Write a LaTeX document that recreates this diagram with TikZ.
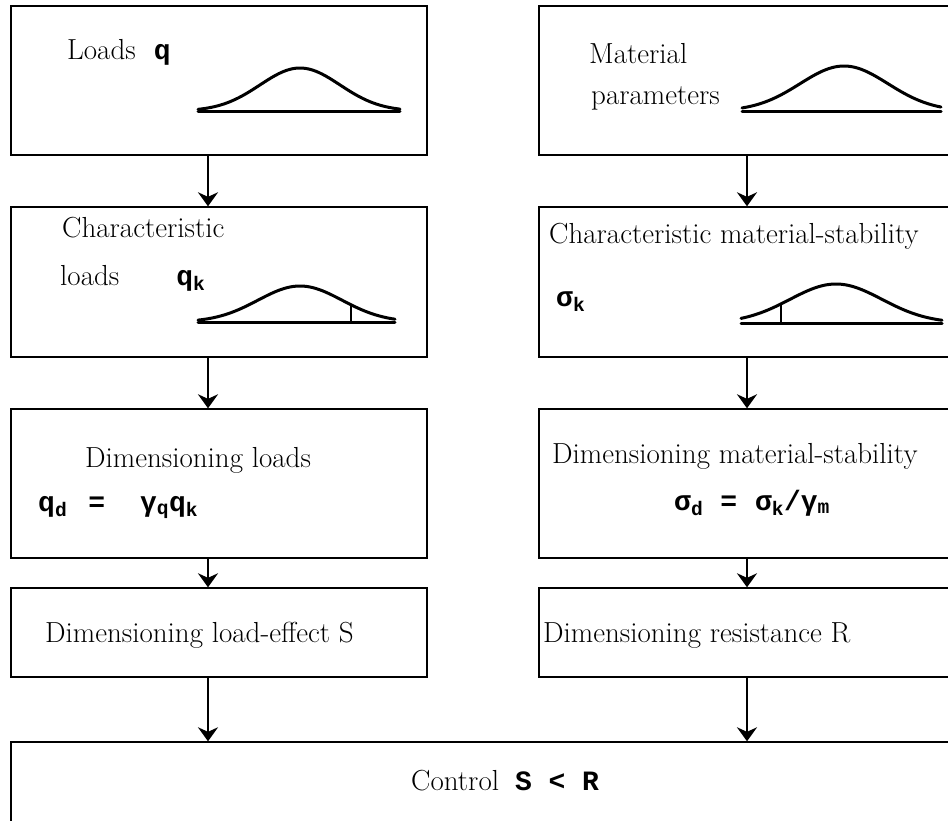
\documentclass[tikz,border=0pt]{standalone}
\usepackage{fontspec}
\setmonofont{Liberation Mono}
\usetikzlibrary{arrows.meta}
\newcommand{\tf}{\fontsize{28}{32}\selectfont\ttfamily\bfseries}

\begin{document}
\begin{tikzpicture}[x=1pt, y=-1pt,
  blk/.style={draw, line width=1.4pt, inner sep=0pt, minimum width=416pt},
  lbl/.style={anchor=base west, inner sep=0pt, font=\fontsize{29}{33}\selectfont},
  frm/.style={anchor=base west, inner sep=0pt, font=\tf},
  flow/.style={line width=2.2pt, -{Stealth[length=14pt, width=20pt]}},
  bell/.style={line width=3pt, line cap=round, line join=round}]

\useasboundingbox (0,0) rectangle (948,820);
\clip (0,0) rectangle (948,820);

% boxes
\node[blk, minimum height=149pt] (loads) at (219,80.5) {};
\node[blk, minimum height=150pt] (charload) at (219,282) {};
\node[blk, minimum height=149pt] (dimload) at (219,483.5) {};
\node[blk, minimum height=89pt] (effect) at (219,632.5) {};
\node[blk, minimum height=149pt] (matpar) at (747,80.5) {};
\node[blk, minimum height=150pt] (charmat) at (747,282) {};
\node[blk, minimum height=149pt] (dimmat) at (747,483.5) {};
\node[blk, minimum height=89pt] (resist) at (747,632.5) {};
\node[blk, minimum width=944pt, minimum height=100pt] (control) at (483,792) {};

% texts
\node[lbl] (tloads) at (67,59) {Loads\hspace{18pt}{\tf q}};
\node[lbl] (tmat1) at (589,63) {Material};
\node[lbl] (tmat2) at (591,104) {parameters};
\node[lbl] (tchar1) at (62,237) {Characteristic};
\node[lbl] (tchar2) at (60,285) {loads\hspace{57pt}{\tf q\textsubscript{k}}};
\node[lbl] (tcharm) at (549,243) {Characteristic material-stability};
\node[frm] (fsigk) at (556,306) {σ\textsubscript{k}};
\node[lbl] (tdim) at (85,467) {Dimensioning loads};
\node[frm] (fdim) at (38,511) {q\textsubscript{d}\hspace{21pt}=\hspace{35pt}γ\textsubscript{q}q\textsubscript{k}};
\node[lbl] (tdimm) at (552,463) {Dimensioning material-stability};
\node[frm] (fdimm) at (674,510) {σ\textsubscript{d}\hspace{17pt}=\hspace{18pt}σ\textsubscript{k}/γ\textsubscript{m}};
\node[lbl] (teff) at (45,642) {Dimensioning load-effect S};
\node[lbl] (tres) at (543,642) {Dimensioning resistance R};
\node[lbl] (tctrl) at (411,790) {Control\hspace{16pt}{\tf S < R}};

% distributions
\draw[bell] (198,111) -- (400,111);
\draw[bell] plot[domain=-102:100, samples=61] ({300+\x},{111-43*exp(-0.5*(\x/40)*(\x/40))});
\draw[bell] (742,111) -- (941,111);
\draw[bell] plot[domain=-102:97, samples=61] ({844+\x},{111-45*exp(-0.5*(\x/44)*(\x/44))});
\draw[bell] (198,322) -- (395,322);
\draw[bell] plot[domain=-102:95, samples=61] ({300+\x},{322-36*exp(-0.5*(\x/42)*(\x/42))});
\draw[bell, line width=2pt] (351,322) -- (351,305);
\draw[bell] (741,323) -- (942,323);
\draw[bell] plot[domain=-95:106, samples=61] ({836+\x},{323-39*exp(-0.5*(\x/46)*(\x/46))});
\draw[bell, line width=2pt] (781,323) -- (781,304);

% arrows
\coordinate (cl) at (208,0);
\coordinate (cr) at (747,0);
\draw[flow] (loads.south -| cl) -- (charload.north -| cl);
\draw[flow] (charload.south -| cl) -- (dimload.north -| cl);
\draw[flow] (dimload.south -| cl) -- (effect.north -| cl);
\draw[flow] (effect.south -| cl) -- (control.north -| cl);
\draw[flow] (matpar.south -| cr) -- (charmat.north -| cr);
\draw[flow] (charmat.south -| cr) -- (dimmat.north -| cr);
\draw[flow] (dimmat.south -| cr) -- (resist.north -| cr);
\draw[flow] (resist.south -| cr) -- (control.north -| cr);
\end{tikzpicture}
\end{document}
